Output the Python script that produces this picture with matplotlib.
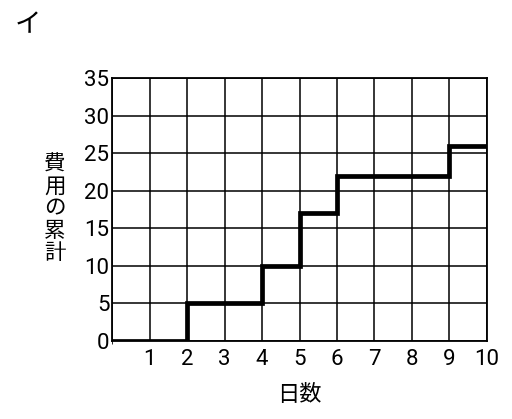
import matplotlib
matplotlib.use("Agg")
import matplotlib.pyplot as plt

plt.rcParams['font.family'] = ['Noto Sans CJK JP', 'DejaVu Sans']

# 日数と費用の累計（階段状）
days = [0, 2, 4, 5, 6, 9, 10]
cost = [0, 5, 10, 17, 22, 26, 26]
x_ticks = [1, 2, 3, 4, 5, 6, 7, 8, 9, 10]
y_ticks = [0, 5, 10, 15, 20, 25, 30, 35]

fig = plt.figure(figsize=(5.12, 4.19), dpi=100)
ax = fig.add_axes([0.219, 0.186, 0.732, 0.628])

ax.step(days, cost, where='post', color='black', linewidth=3.4, solid_joinstyle='miter')

ax.set_xlim(0, 10)
ax.set_ylim(0, 35)
ax.set_xticks(range(0, 11), minor=True)
ax.set_xticks(x_ticks)
ax.set_yticks(y_ticks)
ax.grid(True, which='both', color='black', linewidth=1.1)
ax.tick_params(length=0)
ax.tick_params(axis='y', pad=2)
ax.tick_params(axis='x', pad=6)
for lab in ax.get_xticklabels() + ax.get_yticklabels():
    lab.set_fontfamily(['Roboto', 'DejaVu Sans'])
    lab.set_fontsize(16)
for s in ax.spines.values():
    s.set_linewidth(1.3)

ax.set_xlabel('日数', fontsize=16, labelpad=9)
fig.text(0.107, 0.502, '費\n用\nの\n累\n計', fontsize=15.5, ha='center', va='center',
         linespacing=1.0)
fig.text(0.028, 0.94, 'イ', fontsize=19, ha='left', va='center')

fig.savefig('out.png', dpi=100)
